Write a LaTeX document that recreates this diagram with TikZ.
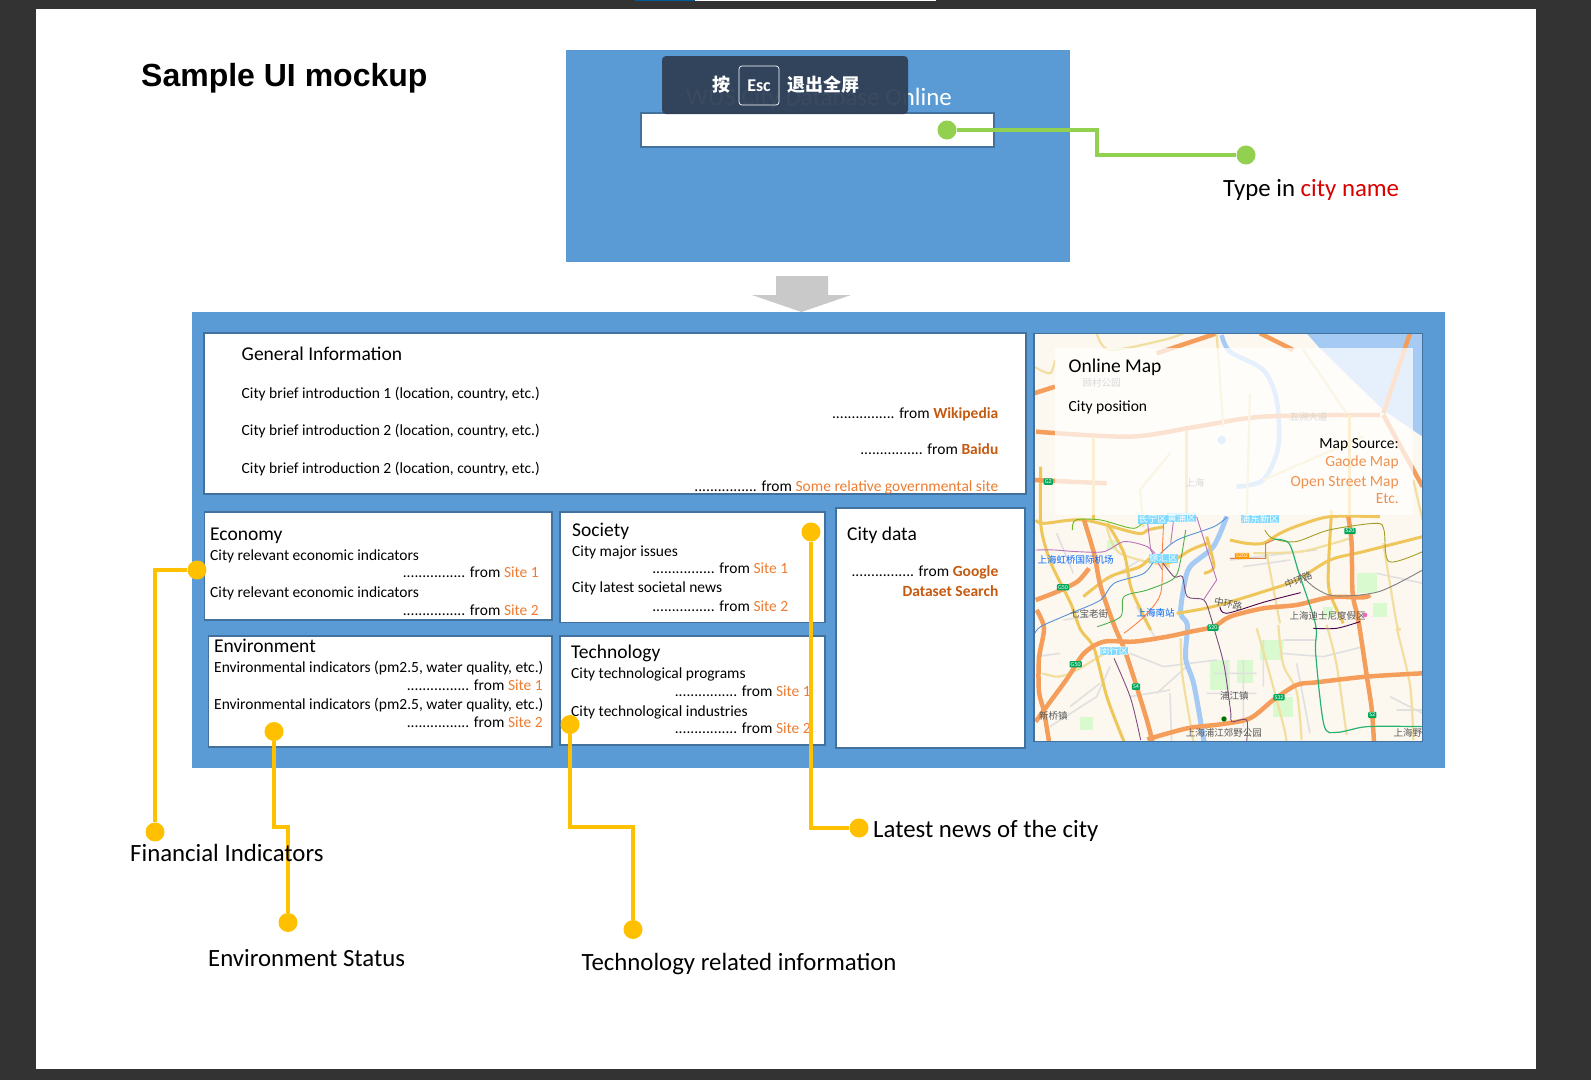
\documentclass[tikz,border=0pt]{standalone}
\usepackage{fontspec}
\setmainfont{Carlito}
\newfontfamily\cjk{Noto Sans CJK SC}
\newfontfamily\titlefont{Liberation Sans}
\usetikzlibrary{calc,positioning}
\definecolor{pagedark}{HTML}{333333}
\definecolor{panelblue}{HTML}{5B9BD5}
\definecolor{boxline}{HTML}{41719C}
\definecolor{siteorange}{HTML}{ED7D31}
\definecolor{sitebold}{HTML}{C55A11}
\definecolor{callgold}{HTML}{FFC000}
\definecolor{callgreen}{HTML}{92D050}
\definecolor{overlaydark}{HTML}{2F3F55}
\definecolor{maproad}{HTML}{F59E5B}
\definecolor{mapyellow}{HTML}{EFC65A}
\definecolor{mappale}{HTML}{F2DFA0}
\definecolor{mapwater}{HTML}{A5CBF5}
\definecolor{mapland}{HTML}{FCF8F0}
\newcommand{\fromsite}[1]{................ from \textcolor{siteorange}{#1}}
\newcommand{\frombold}[1]{................ from \textcolor{sitebold}{\bfseries #1}}
\tikzset{
  cardbox/.style={draw=boxline,line width=1.2pt,fill=white},
  leftlabel/.style={anchor=mid west,inner sep=0pt},
  rightlabel/.style={anchor=mid east,inner sep=0pt},
  headtext/.style={leftlabel,yshift=-4pt,font=\fontsize{19.5}{21}\selectfont},
  smalltext/.style={leftlabel,yshift=-3pt,font=\fontsize{15.5}{17}\selectfont},
  sourcetext/.style={rightlabel,yshift=-3pt,font=\fontsize{15.5}{17}\selectfont},
  calltext/.style={leftlabel,yshift=-6.5pt,font=\fontsize{24.8}{26}\selectfont},
  golddot/.style={circle,fill=callgold,minimum size=19pt,inner sep=0pt},
  greendot/.style={circle,fill=callgreen,minimum size=19pt,inner sep=0pt},
  goldlink/.style={draw=callgold,line width=3.4pt},
  greenlink/.style={draw=callgreen,line width=3.4pt},
  roadmain/.style={draw=maproad,line width=4.5pt,line join=round},
  roadsub/.style={draw=mapyellow,line width=3pt,line join=round},
  roadpale/.style={draw=mappale,line width=2.2pt,line join=round},
  roadgrey/.style={draw=black!12,line width=1.6pt},
  metro/.style={line width=.9pt},
  shield/.style={fill=#1,rounded corners=1pt,text=white,font=\fontsize{6}{6}\selectfont,inner sep=1.2pt},
  maptext/.style={font=\cjk\fontsize{9.5}{10}\selectfont,inner sep=0pt,text=#1},
}
\begin{document}
\begin{tikzpicture}[x=1pt,y=-1pt]
  \useasboundingbox (0,0) rectangle (1591,1080);
  \fill[pagedark] (0,0) rectangle (1591,1080);
  \fill[white] (35.5,9) rectangle (1536,1069);
  \fill[blue!40!cyan!60!black] (635,0) rectangle (695,1.2);
  \fill[white] (695,0) rectangle (936,1.2);

  \node[leftlabel,yshift=-9pt,font=\titlefont\bfseries\fontsize{32}{34}\selectfont] (pagetitle) at (141,75) {Sample UI mockup};

  % search page
  \node[fill=panelblue,minimum width=503.5pt,minimum height=212pt,inner sep=0pt] (searchpanel) at (817.75,156) {};
  \node[leftlabel,yshift=-5pt,text=white,font=\fontsize{24.9}{27}\selectfont] (searchtitle) at (686,98) {WUS City Database Online};
  \node[cardbox,minimum width=353pt,minimum height=34pt,inner sep=0pt] (searchbox) at (817.5,130) {};
  \fill[overlaydark,fill opacity=.94,rounded corners=4pt] (662,56) rectangle (908,114);
  \node[draw=white,rounded corners=3pt,line width=.7pt,minimum width=40pt,minimum height=39pt,inner sep=0pt,text=white,font=\bfseries\fontsize{18}{20}\selectfont] (esckey) at (759,85.5) {Esc};
  \node[text=white,font=\cjk\bfseries\fontsize{18}{20}\selectfont,inner sep=0pt] (escpress) at (721,85) {按};
  \node[text=white,font=\cjk\bfseries\fontsize{18}{20}\selectfont,inner sep=0pt] (escquit) at (823,85) {退出全屏};

  \node[greendot] (searchdot) at (947,130) {};
  \node[greendot] (cityend) at (1246,155) {};
  \coordinate (citybend) at (1097,130);
  \draw[greenlink] (searchdot) -- (citybend) |- (cityend);
  \node[calltext] (citylabel) at (1223,188) {Type in \textcolor{red!85!black}{city name}};

  % arrow between the pages
  \fill[black!21] (776,276) -- (828,276) -- (828,295) -- (851,295) -- (801.5,312) -- (752,295) -- (776,295) -- cycle;

  % result page
  \node[fill=panelblue,minimum width=1253pt,minimum height=456.5pt,inner sep=0pt] (resultpanel) at (818.5,539.75) {};

  \node[cardbox,minimum width=822pt,minimum height=161pt,inner sep=0pt] (generalbox) at (615,413.5) {};
  \node[headtext] (generalhead) at (241.5,354) {General Information};
  \node[smalltext] (generalone) at (241.5,393) {City brief introduction 1 (location, country, etc.)};
  \node[sourcetext] (generalfromone) at (998.5,413) {\frombold{Wikipedia}};
  \node[smalltext] (generaltwo) at (241.5,430.5) {City brief introduction 2 (location, country, etc.)};
  \node[sourcetext] (generalfromtwo) at (998.5,449.5) {\frombold{Baidu}};
  \node[smalltext] (generalthree) at (241.5,468) {City brief introduction 2 (location, country, etc.)};
  \node[sourcetext] (generalfromthree) at (998.5,486) {\fromsite{Some relative governmental site}};

  \node[cardbox,minimum width=347.5pt,minimum height=108pt,inner sep=0pt] (economybox) at (378.25,566) {};
  \node[headtext] (economyhead) at (210,534) {Economy};
  \node[smalltext] (economyone) at (210,555) {City relevant economic indicators};
  \node[sourcetext] (economyfromone) at (539,572) {\fromsite{Site 1}};
  \node[smalltext] (economytwo) at (210,592.5) {City relevant economic indicators};
  \node[sourcetext] (economyfromtwo) at (539,610) {\fromsite{Site 2}};

  \node[cardbox,minimum width=265pt,minimum height=110.5pt,inner sep=0pt] (societybox) at (692.5,567.25) {};
  \node[headtext] (societyhead) at (572,530) {Society};
  \node[smalltext] (societyone) at (572,551) {City major issues};
  \node[sourcetext] (societyfromone) at (788.5,568) {\fromsite{Site 1}};
  \node[smalltext] (societytwo) at (572,587.5) {City latest societal news};
  \node[sourcetext] (societyfromtwo) at (788.5,606) {\fromsite{Site 2}};

  \node[cardbox,minimum width=343.5pt,minimum height=111pt,inner sep=0pt] (environmentbox) at (380.25,691.5) {};
  \node[headtext] (environmenthead) at (214,646) {Environment};
  \node[smalltext] (environmentone) at (214,667) {Environmental indicators (pm2.5, water quality, etc.)};
  \node[sourcetext] (environmentfromone) at (543,685) {\fromsite{Site 1}};
  \node[smalltext] (environmenttwo) at (214,704) {Environmental indicators (pm2.5, water quality, etc.)};
  \node[sourcetext] (environmentfromtwo) at (543,722.5) {\fromsite{Site 2}};

  \node[cardbox,minimum width=265pt,minimum height=109pt,inner sep=0pt] (technologybox) at (692.5,690.5) {};
  \node[headtext] (technologyhead) at (571,652.5) {Technology};
  \node[smalltext] (technologyone) at (571,673) {City technological programs};
  \node[sourcetext] (technologyfromone) at (811,691) {\fromsite{Site 1}};
  \node[smalltext] (technologytwo) at (571,711) {City technological industries};
  \node[sourcetext] (technologyfromtwo) at (811,728.5) {\fromsite{Site 2}};

  \node[cardbox,minimum width=189pt,minimum height=240pt,inner sep=0pt] (citydatabox) at (930.5,628) {};
  \node[headtext] (citydatahead) at (847,534) {City data};
  \node[sourcetext] (citydatafrom) at (998.5,571) {\frombold{Google}};
  \node[sourcetext,text=sitebold,font=\bfseries\fontsize{15.5}{17}\selectfont] (citydatasearch) at (998.5,591.5) {Dataset Search};

  % map, coordinates counted in thirds of a pixel from its corner
  \begin{scope}[shift={(1030,320)},x=.3333pt,y=-.3333pt]
    \begin{scope}
      \clip (12,40) rectangle (1178,1265);
      \fill[mapland] (12,40) rectangle (1178,1265);
      \fill[mapwater] (830,40) -- (870,85) -- (1060,270) -- (1178,350) -- (1178,40) -- cycle;
      \foreach \gx/\gy/\gw/\gh in {540/1020/60/90,620/1020/50/70,690/960/70/60,730/1130/60/60,150/1190/40/40,230/660/30/30,980/760/60/60,1030/850/40/40,880/860/30/30}
        \fill[green!14!mapland] (\gx,\gy) rectangle ++(\gw,\gh);
      \draw[roadgrey] (120,1160) -- (210,1090) (300,1000) -- (400,1040) -- (560,1020) (530,1120) -- (680,1120) (640,1020) -- (640,1220)
        (750,1000) -- (880,1010) -- (1000,980) (800,1030) -- (840,1240) (420,1120) -- (425,1265) (1080,1130) -- (1178,1180) (600,720) -- (860,690) (380,960) -- (320,860)
        (1100,1170) -- (1178,1170) (20,1010) -- (90,1000) (60,1220) -- (200,1130) -- (240,1040)
        (550,1060) -- (680,1060) (590,1020) -- (590,1110) (700,960) -- (700,1100) (760,960) -- (860,960) (80,640) -- (130,760) (230,780) -- (330,720)
        (300,1130) -- (420,1110) (100,900) -- (230,880) (640,740) -- (780,720) (470,1040) -- (380,1120) (1040,760) -- (1178,790);
      \draw[roadpale] plot[smooth] coordinates {(680,925) (720,1065) (760,1215) (770,1265)};
      \draw[roadpale] plot[smooth] coordinates {(745,915) (760,1035) (800,1115) (815,1260)};
      \draw[roadpale] plot[smooth] coordinates {(890,915) (920,1035) (950,1245)};
      \draw[roadpale] plot[smooth] coordinates {(1100,925) (1140,1095) (1150,1260)};
      \draw[roadpale] plot[smooth] coordinates {(1060,670) (1100,910) (1110,925)};
      \draw[roadpale] plot[smooth] coordinates {(710,700) (750,910)};
      \draw[roadpale] plot[smooth] coordinates {(452,955) (457,1065) (482,1215) (490,1265)};
      \draw[roadpale] plot[smooth] coordinates {(37,1060) (82,1070) (132,1055) (232,995)};
      \draw[roadpale] plot[smooth] coordinates {(670,700) (810,695) (910,670) (960,655)};
      \draw[roadpale] plot[smooth] coordinates {(12,140) (60,160) (75,120)};
      \draw[roadpale] plot[smooth] coordinates {(200,40) (240,90) (400,60) (460,40)};
      \draw[roadpale] plot[smooth] coordinates {(230,620) (270,700) (420,740)};
      \draw[mapwater,line width=5pt] plot[smooth] coordinates {(590,590) (550,680) (480,740) (462,800) (452,880) (472,915) (467,1015) (492,1095) (522,1265)};
      \draw[mapwater,line width=4.5pt] plot[smooth] coordinates {(575,45) (600,95) (700,150) (740,240) (745,380) (700,480) (620,500)};
      \fill[mapwater] (575,360) circle (13);
      \draw[roadsub] plot[smooth] coordinates {(17,600) (42,610) (162,600) (322,640) (352,630) (402,620)};
      \draw[roadsub] plot[smooth] coordinates {(32,440) (32,610) (52,700) (72,750) (122,850) (152,930) (192,985) (232,1135) (282,1265)};
      \draw[roadsub] plot[smooth] coordinates {(232,610) (282,700) (302,800) (332,870) (362,930)};
      \draw[roadsub] plot[smooth] coordinates {(440,880) (549,860) (700,815) (800,780) (900,720) (1000,695) (1178,650)};
      \draw[roadsub] plot[smooth] coordinates {(600,660) (650,670) (700,670) (750,640) (810,615) (900,590) (1050,590)};
      \draw[roadsub] plot[smooth] coordinates {(905,570) (895,750) (900,820) (940,910)};
      \draw[roadsub] plot[smooth] coordinates {(372,710) (412,730) (482,690) (532,670)};
      \draw[roadsub] plot[smooth] coordinates {(522,760) (552,740) (530,650)};
      \draw[roadsub] plot[smooth] coordinates {(160,830) (240,770) (330,740) (372,700)};
      \draw[roadmain] plot[smooth] coordinates {(162,600) (192,700) (212,800) (252,915) (282,985) (312,1075) (352,1205) (367,1265)};
      \draw[roadmain] plot[smooth] coordinates {(17,840) (82,815) (142,785) (177,745)};
      \draw[roadmain] plot[smooth] coordinates {(17,1205) (57,1150) (112,1075) (162,1000) (222,965) (312,965) (412,950) (482,935) (552,920) (600,890) (700,865) (800,855) (900,832) (1000,832) (1020,825)};
      \draw[roadmain] plot[smooth] coordinates {(20,870) (42,925) (27,1015) (27,1115) (42,1175) (57,1265)};
      \draw[roadmain] plot[smooth] coordinates {(955,590) (965,670) (968,820) (985,900) (1010,1065) (1025,1165) (1032,1265)};
      \draw[roadmain] plot[smooth] coordinates {(352,1258) (472,1225) (572,1213) (660,1195) (730,1140) (800,1095) (860,1087) (1010,1070) (1178,1060)};
      \draw[roadmain] (12,220) -- (75,200);
      \draw[roadmain] (12,480) -- (230,490);
      \draw[roadmain] plot[smooth] coordinates {(18,335) (300,350) (500,320) (700,290) (1050,285)};
      \draw[roadmain] (1060,285) -- (1178,500);
      \draw[roadmain] (1140,40) -- (1060,280);
      \draw[roadmain] (380,100) -- (560,40);
      \draw[roadmain] (690,40) -- (790,90);
      \draw[roadsub] (960,285) -- (960,590) (470,330) -- (470,600) (190,350) -- (190,600);
      \draw[roadpale] (560,40) -- (580,320) (820,90) -- (950,280) (660,220) -- (650,590) (340,620) -- (330,510) -- (420,400) (700,480) -- (1000,350) (1150,480) -- (1178,600);
      % metro lines
      \draw[metro,color=green!45!brown] plot[smooth] coordinates {(127,630) (137,600) (212,600) (312,625) (352,590)};
      \draw[metro,color=violet!55] plot[smooth] coordinates {(17,690) (72,690) (142,695) (222,695) (282,665) (352,680) (382,710)};
      \draw[metro,color=cyan!55!blue!70] plot[smooth] coordinates {(12,945) (32,920) (122,880) (212,840) (252,790) (342,760) (382,710) (442,660) (552,620) (592,590)};
      \draw[metro,color=green!55!black!70] plot[smooth] coordinates {(202,920) (272,890) (282,830) (352,810) (432,775) (452,720) (467,630)};
      \draw[metro,color=violet!50!black!70] plot[smooth] coordinates {(392,720) (432,770) (457,770) (472,830) (522,840) (542,890) (552,925) (582,1035) (602,1175) (605,1205) (650,1200) (650,1265)};
      \draw[metro,color=violet!55] (352,600) -- (362,690) -- (397,750) (432,590) -- (422,670) (500,590) -- (560,780) -- (520,840);
      \draw[metro,color=red!40!orange!70] plot[smooth] coordinates {(402,590) (397,690) (392,820) (342,890) (282,940)};
      \draw[metro,color=olive!80] plot[smooth] coordinates {(705,630) (727,655) (797,665) (897,630) (1037,610) (1062,630) (1077,725) (1178,695)};
      \draw[metro,color=red!30!brown!80] (600,715) -- (707,715) -- (707,670) -- (732,660);
      \draw[line width=1.2pt,color=teal!70!green!85] plot[smooth] coordinates {(732,658) (777,670) (807,760) (857,915) (857,1000) (882,1215) (922,1237) (1012,1220) (1178,1220)};
      \draw[metro,color=black!50] plot[smooth] coordinates {(807,760) (857,805) (917,828) (1047,815) (1178,750)};
      \draw[metro,color=violet!60!black] plot[smooth] coordinates {(570,860) (590,880) (707,845) (812,818)};
      \draw[metro,color=violet!60!black] plot[smooth] coordinates {(850,925) (920,925) (990,905)};
      \draw[metro,color=violet!60!black!70] plot[smooth] coordinates {(252,1015) (302,1135) (332,1260)};
      % labels on the map
      \node[maptext=blue!60!cyan] (airportname) at (137,720) {上海虹桥国际机场};
      \node[maptext=black!65] (qibaoname) at (177,882) {七宝老街};
      \node[maptext=blue!60!cyan] (southstation) at (377,880) {上海南站};
      \node[maptext=black!65,rotate=-12] (ringwest) at (595,852) {中环路};
      \node[maptext=black!65,rotate=22] (ringeast) at (805,780) {中环路};
      \node[maptext=black!65] (disneyname) at (893,887) {上海迪士尼度假区};
      \node[maptext=black!65] (pujiangname) at (613,1128) {浦江镇};
      \node[maptext=black!65] (parkname) at (582,1240) {上海浦江郊野公园};
      \node[maptext=black!65,anchor=west] (wildname) at (1090,1240) {上海野生};
      \node[maptext=black!65] (xinqiaoname) at (70,1187) {新桥镇};
      \node[maptext=white,fill=blue!30!cyan!50] (minhangname) at (252,993) {闵行区};
      \node[maptext=white,fill=blue!30!cyan!50] (changningname) at (368,598) {长宁区};
      \node[maptext=white,fill=blue!30!cyan!50] (xuhuiname) at (400,715) {徐汇区};
      \node[maptext=white,fill=blue!30!cyan!50] (huangpuname) at (455,593) {黄浦区};
      \node[maptext=white,fill=blue!30!cyan!50] (pudongname) at (690,597) {浦东新区};
      \node[maptext=black!55] (gucunname) at (215,190) {顾村公园};
      \node[maptext=black!55] (wuzhouname) at (835,290) {五洲大道};
      \node[maptext=black!55] (shanghainame) at (495,490) {上海};
      \foreach \sx/\sy/\st in {55/485/G2,99/802/G50,137/1033/G50,318/1100/S4,549/923/S20,747/1132/S32,1027/1185/S2,960/633/S20}
        \node[shield=teal!70!green] (shield\sx) at (\sx,\sy) {\st};
      \node[shield=orange!80!yellow] (shieldmid) at (636,708) {S202};
      \fill[green!45!black] (582,1197) circle (8);
      \fill[magenta!60] (1005,885) circle (7);
      \fill[white,opacity=.72] (75,85) rectangle (1150,585);
    \end{scope}
    \draw[boxline,line width=1.2pt] (12,40) rectangle (1178,1265);
  \end{scope}
  \node[headtext] (maphead) at (1068.5,366) {Online Map};
  \node[smalltext] (mapcity) at (1068.5,406) {City position};
  \node[sourcetext] (mapsource) at (1399,443) {Map Source:};
  \node[sourcetext,text=siteorange!85] (mapgaode) at (1399,461) {Gaode Map};
  \node[sourcetext,text=siteorange!85] (mapstreet) at (1399,481) {Open Street Map};
  \node[sourcetext,text=siteorange!85] (mapetc) at (1399,498) {Etc.};

  % call-outs
  \node[golddot] (economydot) at (197,570) {};
  \node[golddot] (financeend) at (155,832) {};
  \draw[goldlink] (economydot) -| (financeend);
  \node[golddot] (environmentdot) at (274,731.5) {};
  \node[golddot] (environmentend) at (288,922.5) {};
  \coordinate (environmentbend) at (274,827);
  \draw[goldlink] (environmentdot) -- (environmentbend) -| (environmentend);
  \node[golddot] (technologydot) at (570,724.5) {};
  \node[golddot] (technologyend) at (633,929.5) {};
  \coordinate (technologybend) at (570,827);
  \draw[goldlink] (technologydot) -- (technologybend) -| (technologyend);
  \node[golddot] (societydot) at (811,532) {};
  \node[golddot] (newsend) at (859,828) {};
  \draw[goldlink] (societydot) |- (newsend);
  \node[calltext] (financelabel) at (130,853) {Financial Indicators};
  \node[calltext] (environmentlabel) at (208,958) {Environment Status};
  \node[calltext] (technologylabel) at (581.5,962) {Technology related information};
  \node[calltext] (newslabel) at (873,829) {Latest news of the city};
\end{tikzpicture}
\end{document}
